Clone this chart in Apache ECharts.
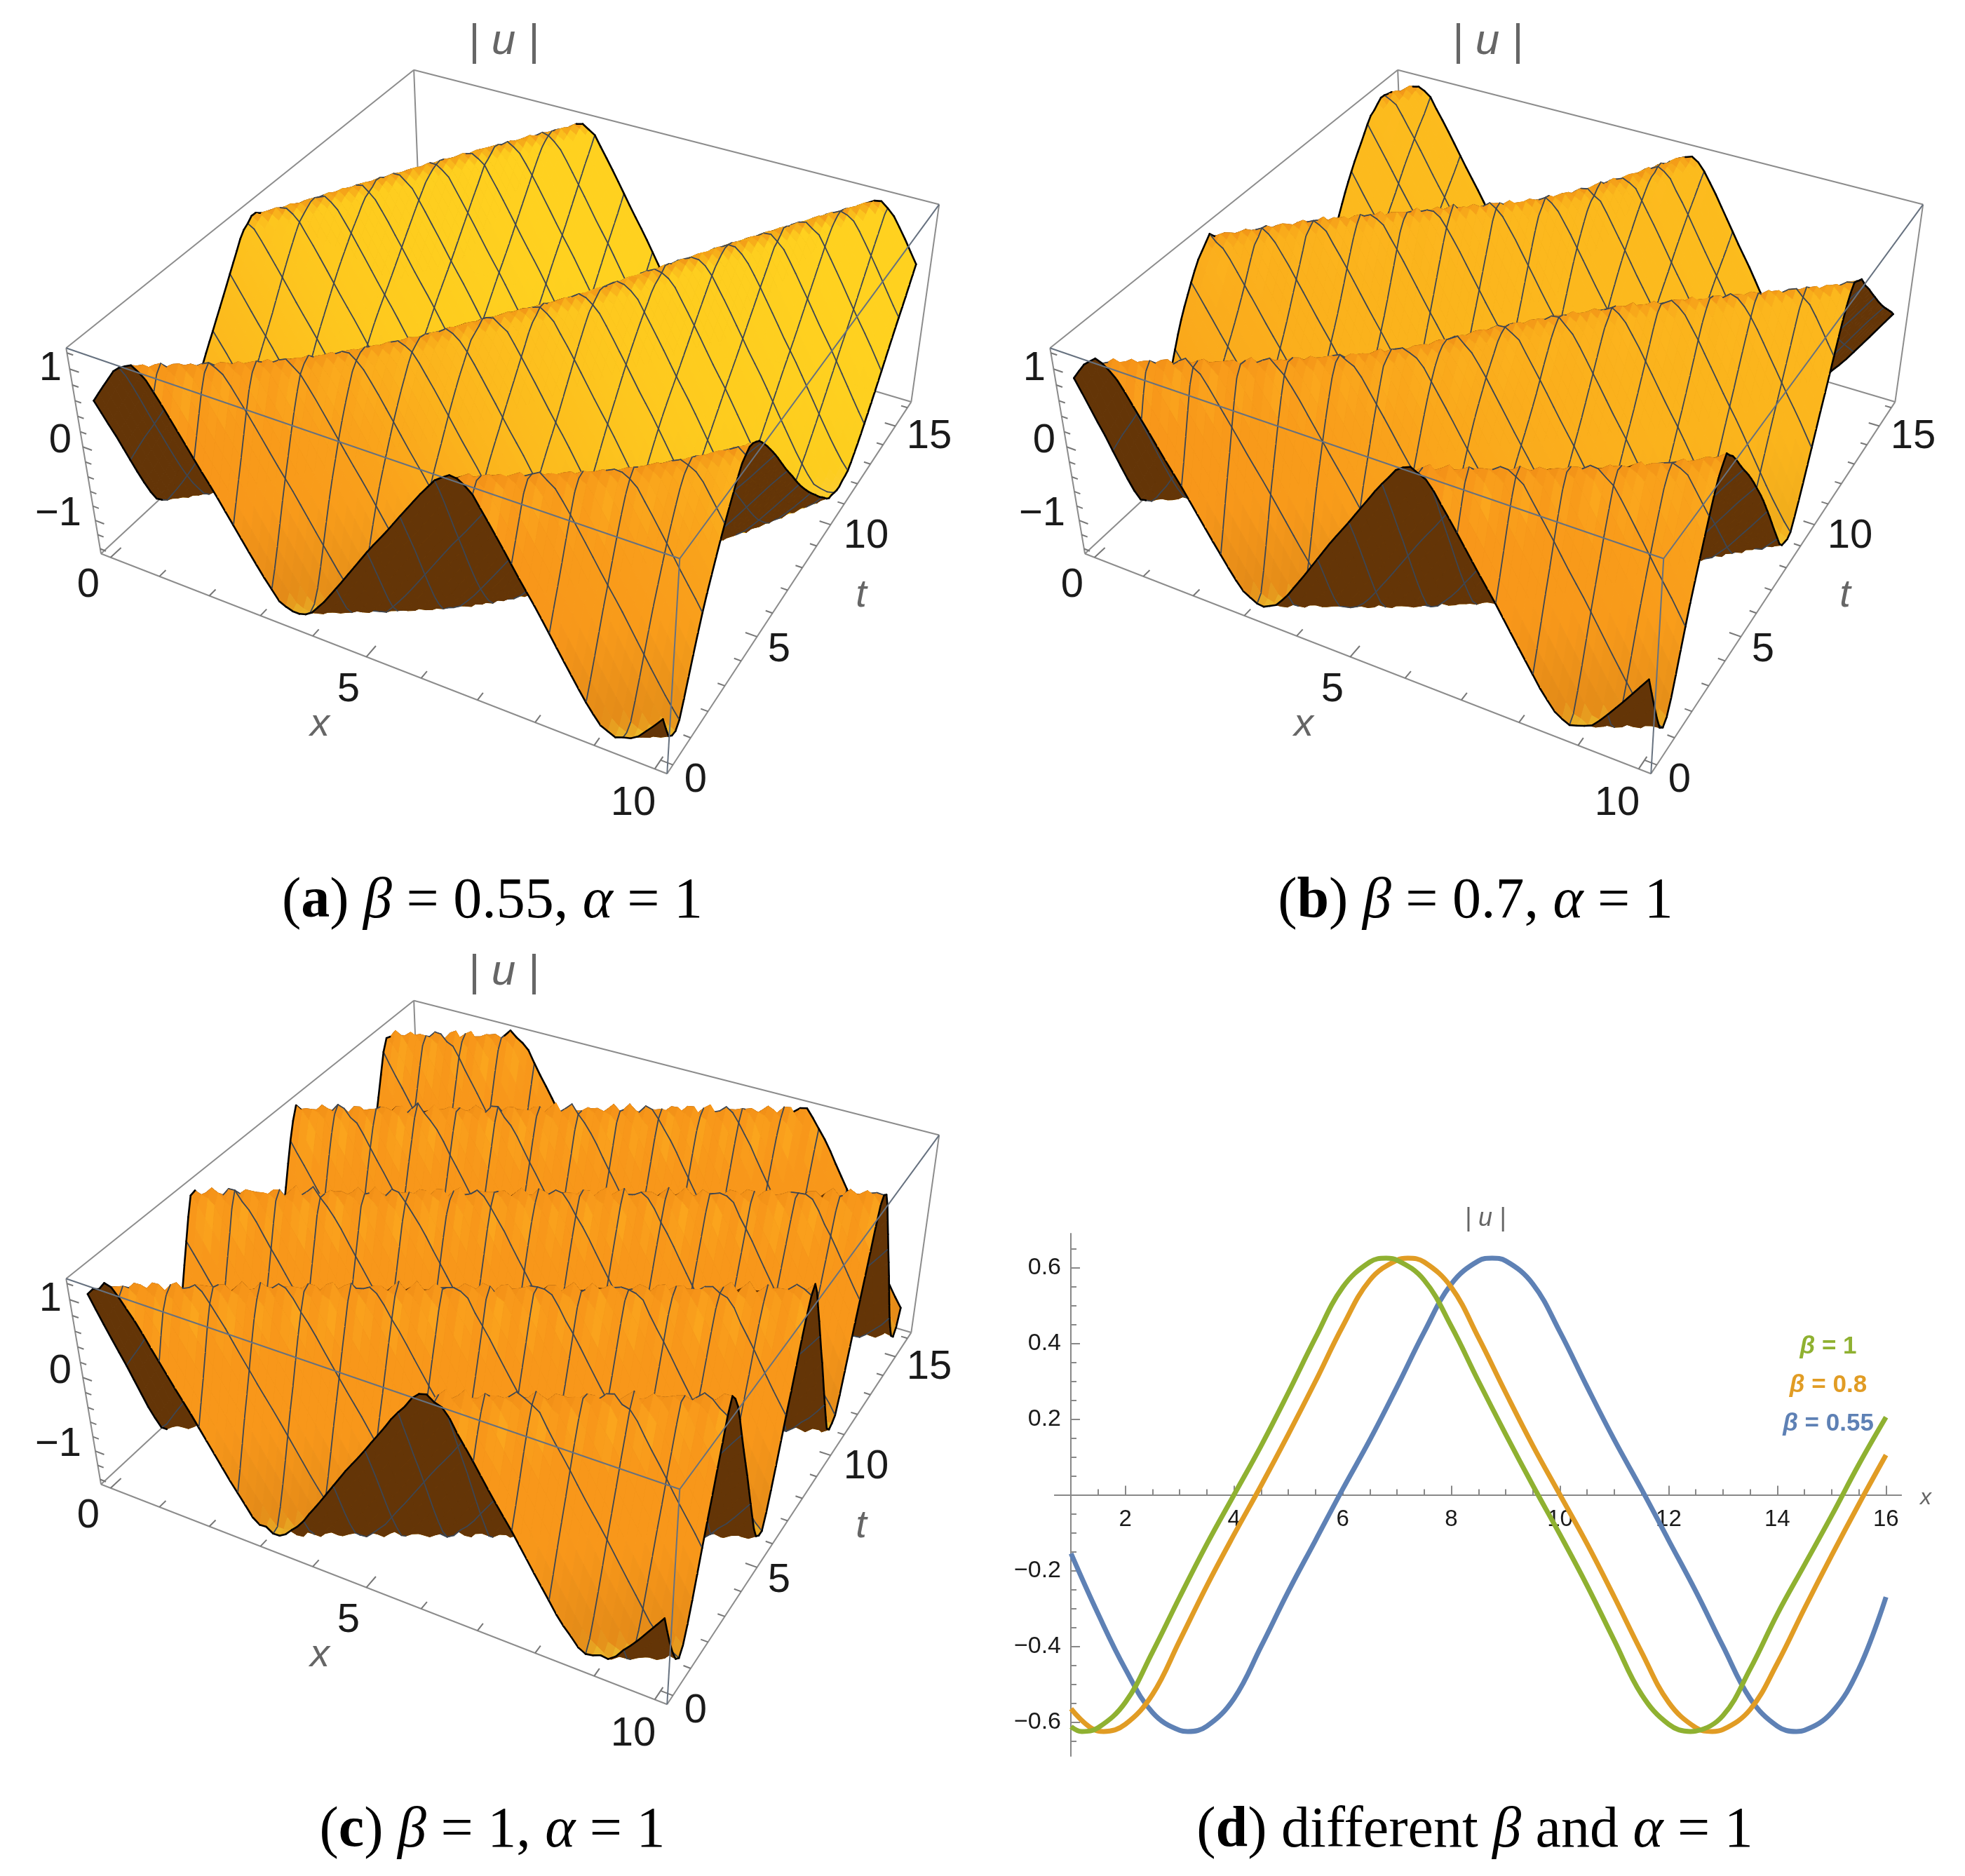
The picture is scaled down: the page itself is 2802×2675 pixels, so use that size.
<!DOCTYPE html>
<html><head><meta charset="utf-8">
<style>html,body{margin:0;padding:0;background:#fff}#c{width:2802px;height:2675px}</style>
<script src="https://cdn.jsdelivr.net/npm/echarts@6/dist/echarts.min.js"></script>
</head><body><div id="c"></div>
<script>
// ---------- panel (d) data ----------
const xValues=[1,1.5,2,2.5,3,3.5,4,4.5,5,5.5,6,6.5,7,7.5,8,8.5,9,9.5,10,10.5,11,11.5,12,12.5,13,13.5,14,14.5,15,15.5,16];
const beta1=[-.612,-.615,-.548,-.415,-.27,-.13,0,.13,.27,.415,.548,.615,.62,.567,.445,.30,.16,.025,-.105,-.24,-.385,-.527,-.606,-.624,-.583,-.46,-.315,-.185,-.055,.08,.205];
const beta08=[-.565,-.624,-.606,-.527,-.385,-.24,-.105,.025,.16,.30,.445,.567,.62,.615,.548,.415,.27,.13,0,-.13,-.27,-.415,-.548,-.615,-.62,-.567,-.445,-.30,-.16,-.025,.105];
const beta055=[-.155,-.315,-.46,-.575,-.622,-.611,-.538,-.40,-.255,-.12,.015,.145,.285,.43,.557,.618,.618,.557,.43,.285,.145,.015,-.12,-.255,-.40,-.538,-.611,-.622,-.575,-.46,-.27];
// turning points of each curve: [x, value]
const extrema1=[[1.2,-.625],[6.8,.625],[12.4,-.625]];
const extrema08=[[1.6,-.625],[7.2,.625],[12.8,-.625]];
const extrema055=[[3.15,-.625],[8.75,.625],[14.35,-.625]];
const dMajorX=[2,4,6,8,10,12,14,16];
const dMinorX=[1.5,2,2.5,3,3.5,4,4.5,5,5.5,6,6.5,7,7.5,8,8.5,9,9.5,10,10.5,11,11.5,12,12.5,13,13.5,14,14.5,15,15.5,16];
const dMajorY=[-.6,-.4,-.2,.2,.4,.6];
const dMinorY=[-.65,-.6,-.55,-.5,-.45,-.4,-.35,-.3,-.25,-.2,-.15,-.1,-.05,.05,.1,.15,.2,.25,.3,.35,.4,.45,.5,.55,.6,.65];

// ---------- surface data ----------
const tKnots=[0,2,4,6,8,10,12,14,16];
const shiftA=[0,2,3.3,4.25,5.2,5.95,6.7,7.5,8.35];
const shiftB=[0,2.3,4,5.05,6.3,7.85,9.4,10.3,11];
const shiftC=[0,2.36,4.72,7.08,9.44,11.8,14.16,16.5,18.9];
const warmA=[1,.85,.55,.35,.2,.12,.08,.05,.05];
const warmB=[1,.9,.72,.62,.55,.5,.45,.42,.4];
const warmC=[1,1,1,1,1,1,1,1,1];
const profileZ=[1.2,1.08,.8,.5,.19,-.1,-.42,-.74,-1.05,-1.32,-1.4];
const ripple=[0,.5,1,.4,.1,.6,.9,.3,0,.7,.5];
const xTicks=[0,1,2,3,4,5,6,7,8,9,10];
const tTicks=[0,1,2,3,4,5,6,7,8,9,10,11,12,13,14,15,16];
const zTicks=[-1.4,-1.2,-1,-.8,-.6,-.4,-.2,0,.2,.4,.6,.8,1,1.2];

const boxX=[-.2,10.2],boxT=[-.32,16.32],boxZ=[-1.47,1.26];
const corners=[[0,0,1,96,497],[1,0,1,969,799],[1,1,1,1338,292],[0,1,1,590,97],[0,0,0,142,787],[1,0,0,952,1103],[1,1,0,1300,571],[0,1,0,601,370]];
const panels=[
 {dx:0,dy:0,crest:.85,L:5.72,shift:shiftA,warm:warmA,rip:.02,lift:.02},
 {dx:1403,dy:0,crest:.55,L:5.6,shift:shiftB,warm:warmB,rip:.04,lift:.03},
 {dx:0,dy:1327,crest:.4,L:5.75,shift:shiftC,warm:warmC,rip:.09,lift:.1}];
const fallShare=.47;

function solveCamera(){
 const A=[],b=[];
 corners.forEach(c=>{
  const x=boxX[c[0]],t=boxT[c[1]],z=boxZ[c[2]],u=c[3]/1000,v=c[4]/1000;
  A.push([x,t,z,1,0,0,0,0,-u*x,-u*t,-u*z]);b.push(u);
  A.push([0,0,0,0,x,t,z,1,-v*x,-v*t,-v*z]);b.push(v);
 });
 const n=11,M=[];
 for(let i=0;i<n;i++){M.push(new Array(n+1).fill(0));
  for(let j=0;j<n;j++)for(let r=0;r<A.length;r++)M[i][j]+=A[r][i]*A[r][j];
  for(let r=0;r<A.length;r++)M[i][n]+=A[r][i]*b[r];}
 for(let i=0;i<n;i++){let m=i;for(let r=i+1;r<n;r++)if(Math.abs(M[r][i])>Math.abs(M[m][i]))m=r;
  [M[i],M[m]]=[M[m],M[i]];
  for(let r=0;r<n;r++)if(r!==i){const f=M[r][i]/M[i][i];for(let c=i;c<=n;c++)M[r][c]-=f*M[i][c];}}
 return M.map((row,i)=>row[n]/row[i]);
}
const P=solveCamera();
function project(p,x,t,z){
 const w=P[8]*x+P[9]*t+P[10]*z+1;
 return [1000*(P[0]*x+P[1]*t+P[2]*z+P[3])/w+p.dx,1000*(P[4]*x+P[5]*t+P[6]*z+P[7])/w+p.dy];
}
function tableAt(tab,t){
 const h=tKnots[1];let i=Math.min(tab.length-2,Math.max(0,Math.floor(t/h)));const s=t/h-i;
 const p1=tab[i],p2=tab[i+1],p0=i>0?tab[i-1]:2*p1-p2,p3=i<tab.length-2?tab[i+2]:2*p2-p1;
 return .5*(2*p1+(p2-p0)*s+(2*p0-5*p1+4*p2-p3)*s*s+(3*p1-p0-3*p2+p3)*s*s*s);
}
const NX=80,NT=80,DX=10/NX,DT=16/NT,MX=NX/16,MT=NT/16;
function phaseF(p,x,t){
 const ph=x-p.crest-tableAt(p.shift,t),m=((ph%p.L)+p.L)%p.L,fall=p.L*fallShare;
 return (m<fall?m/fall:(p.L-m)/(p.L-fall))*10;
}
function height(p,ix,it){
 const f=phaseF(p,ix*DX,it*DT);
 const i=Math.min(9,Math.floor(f)),zz=profileZ[i]+(profileZ[i+1]-profileZ[i])*(f-i);
 const e=Math.abs(f/5-1),w=e*e*e,r=ripple[(ix+it)%ripple.length]*p.rip*w;
 return zz+(f<5?p.lift*w-r:r);
}
function clamp(v){return Math.max(0,Math.min(1,v));}
function mix(a,b,s){s=clamp(s);return [a[0]+(b[0]-a[0])*s,a[1]+(b[1]-a[1])*s,a[2]+(b[2]-a[2])*s];}
function css(c,k){k=k||1;return 'rgb('+Math.round(c[0]*k)+','+Math.round(c[1]*k)+','+Math.round(c[2]*k)+')';}
const YEL=[255,212,31],ORA=[248,151,26],TOP=[240,142,22],LOW=[255,206,48],GLOW=[255,186,34],BROWN='#643507';

function surfaceItem(p){return function(params,api){
 const ix=api.value(0),it=api.value(1),x=ix*DX,t=it*DT,x1=x+DX,t1=t+DT;
 const z00=height(p,ix,it),z10=height(p,ix+1,it),z11=height(p,ix+1,it+1),z01=height(p,ix,it+1);
 const s00=project(p,x,t,z00),s10=project(p,x1,t,z10),s11=project(p,x1,t1,z11),s01=project(p,x,t1,z01);
 const q=[s00,s10,s11,s01];let area=0;
 for(let i=0;i<4;i++){const a=q[i],b=q[(i+1)%4];area+=a[0]*b[1]-b[0]*a[1];}
 let col;
 if(area>0)col=BROWN;
 else{
  const warm=clamp(tableAt(p.warm,t+DT/2));
  const f=phaseF(p,x+DX/2,t+DT/2),zm=(z00+z10+z11+z01)/4;
  let c=mix(YEL,ORA,warm);
  c=mix(c,GLOW,clamp((f-.5)/.8)*clamp((3-f)/1.2)*ripple[ix%ripple.length]*.4*warm);
  c=mix(c,TOP,clamp(1-f/.75)*.8);
  c=mix(c,LOW,clamp(1-(10-f)/1.2)*.85);
  const k=1-(.08*(1-clamp((zm+1.2)/.9)))*warm;
  col=css(c,k);
 }
 const sc=q.map(s=>api.coord(s));
 const ch=[{type:'polygon',shape:{points:sc},style:{fill:col,stroke:col,lineWidth:1}}];
 const line=(a,b,c,w)=>ch.push({type:'line',shape:{x1:a[0],y1:a[1],x2:b[0],y2:b[1]},style:{stroke:c,lineWidth:w,lineCap:'round'}});
 if(ix%MX===0&&ix>0)line(sc[0],sc[3],'#3d4653',1.8);
 if((it+1)%MT===0&&it+1<NT)line(sc[3],sc[2],'#3d4653',1.8);
 if(ix===0)line(sc[0],sc[3],'#000',2.6);
 if(ix===NX-1)line(sc[1],sc[2],'#000',2.6);
 if(it===0)line(sc[0],sc[1],'#000',2.6);
 if(it===NT-1)line(sc[3],sc[2],'#000',2.6);
 return {type:'group',children:ch};
};}
const cellData=[];for(let it=NT-1;it>=0;it--)for(let ix=0;ix<NX;ix++)cellData.push([ix,it]);

const backEdges=[[0,0,1,0,1,1],[1,1,1,0,1,1],[0,0,1,0,0,0],[0,1,1,0,1,0],[1,1,1,1,1,0],[0,0,0,1,0,0],[1,0,0,1,1,0],[0,0,0,0,1,0],[0,1,0,1,1,0]];
const frontEdges=[[0,0,1,1,0,1],[1,0,1,1,1,1],[1,0,1,1,0,0]];
const tickSegs=[];
xTicks.forEach(v=>tickSegs.push(['x',v,v%5===0]));
tTicks.forEach(v=>tickSegs.push(['t',v,v%5===0]));
zTicks.forEach(v=>tickSegs.push(['z',v,Math.abs(v-Math.round(v))<.01]));

function edgeSeries(list,zl,colour){
 return panels.map(p=>({type:'custom',xAxisIndex:0,yAxisIndex:0,silent:true,z:zl,clip:false,animation:false,
  data:list.map((e,i)=>[i,0]),
  renderItem(pr,api){const e=list[api.value(0)];
   const a=api.coord(project(p,boxX[e[0]],boxT[e[1]],boxZ[e[2]])),b=api.coord(project(p,boxX[e[3]],boxT[e[4]],boxZ[e[5]]));
   return {type:'line',shape:{x1:a[0],y1:a[1],x2:b[0],y2:b[1]},style:{stroke:colour,lineWidth:2}};}}));
}
function tickSeries(){return panels.map(p=>({type:'custom',xAxisIndex:0,yAxisIndex:0,silent:true,z:2,clip:false,animation:false,
 data:tickSegs.map((e,i)=>[i,0]),
 renderItem(pr,api){const e=tickSegs[api.value(0)],v=e[1],mj=e[2];let a,b;
  if(e[0]==='x'){a=[v,boxT[0],boxZ[0]];b=[v,boxT[0]+(mj?.45:.28),boxZ[0]];}
  else if(e[0]==='t'){a=[boxX[1],v,boxZ[0]];b=[boxX[1]-(mj?.2:.12),v,boxZ[0]];}
  else{a=[boxX[0],boxT[0],v];b=[boxX[0]+(mj?.18:.12),boxT[0],v];}
  const A=api.coord(project(p,...a)),B=api.coord(project(p,...b));
  return {type:'line',shape:{x1:A[0],y1:A[1],x2:B[0],y2:B[1]},style:{stroke:'#777',lineWidth:2}};}}));}

function curve(vals,ext){return xValues.map((x,i)=>[x,vals[i]]).concat(ext).sort((a,b)=>a[0]-b[0]);}
const series=[...edgeSeries(backEdges,2,'#8c8c8c'),...tickSeries(),
 ...panels.map(p=>({type:'custom',xAxisIndex:0,yAxisIndex:0,silent:true,z:3,clip:false,animation:false,progressive:0,
   data:cellData,renderItem:surfaceItem(p)})),
 ...edgeSeries(frontEdges,4,'#66717f'),
 {name:'β = 0.55',type:'line',xAxisIndex:1,yAxisIndex:1,data:curve(beta055,extrema055),smooth:.4,showSymbol:false,lineStyle:{color:'#5E81B5',width:7},z:5,animation:false},
 {name:'β = 0.8',type:'line',xAxisIndex:1,yAxisIndex:1,data:curve(beta08,extrema08),smooth:.4,showSymbol:false,lineStyle:{color:'#E19C24',width:7},z:6,animation:false},
 {name:'β = 1',type:'line',xAxisIndex:1,yAxisIndex:1,data:curve(beta1,extrema1),smooth:.4,showSymbol:false,lineStyle:{color:'#8FB131',width:7},z:7,animation:false}
];

// ---------- texts ----------
const SANS='"Liberation Sans"',SERIF='"Liberation Serif"';
function txt(x,y,s,size,color,extra){return {type:'text',x,y,z:20,silent:true,style:Object.assign({text:s,fontFamily:SANS,fontSize:size,fill:color,align:'center',verticalAlign:'middle'},extra||{})};}
const g=[];
const panelLabels=[['1',72,526],['0',86,629],['\u22121',83,733],['0',126,835],['5',497,984],['10',903,1146],['0',992,1113],['5',1111,927],['10',1235,765],['15',1325,623]];
panels.forEach(p=>{
 panelLabels.forEach(l=>g.push(txt(l[1]+p.dx,l[2]+p.dy,l[0],58,'#1a1a1a')));
 g.push(txt(456+p.dx,1033+p.dy,'x',56,'#666',{fontStyle:'italic'}));
 g.push(txt(1228+p.dx,849+p.dy,'t',56,'#666',{fontStyle:'italic'}));
 g.push(txt(718+p.dx,60+p.dy,'| u |',62,'#666',{fontStyle:'italic'}));
});
const capStyle={fontFamily:SERIF,fontSize:82,fill:'#000'};
const capRich={r:capStyle,b:Object.assign({},capStyle,{fontWeight:'bold'}),i:Object.assign({},capStyle,{fontStyle:'italic'})};
function cap(x,y,s){g.push({type:'text',x,y,z:20,silent:true,style:{text:s,rich:capRich,align:'center',verticalAlign:'middle'}});}
cap(702,1286,'{r|(}{b|a}{r|) }{i|β}{r| = 0.55, }{i|α}{r| = 1}');
cap(2104,1286,'{r|(}{b|b}{r|) }{i|β}{r| = 0.7, }{i|α}{r| = 1}');
cap(702,2611,'{r|(}{b|c}{r|) }{i|β}{r| = 1, }{i|α}{r| = 1}');
cap(2103,2611,'{r|(}{b|d}{r|) different }{i|β}{r| and }{i|α}{r| = 1}');
g.push(txt(2118,1738,'| u |',36,'#666',{fontStyle:'italic'}));
g.push(txt(2746,2136,'x',32,'#666',{fontStyle:'italic'}));
function leg(y,s,c){const st={fontFamily:SANS,fontSize:35,fontWeight:'bold',fill:c};
 g.push({type:'text',x:2607,y,z:20,silent:true,style:{text:'{i|β}{n|'+s+'}',rich:{i:Object.assign({},st,{fontStyle:'italic'}),n:st},align:'center',verticalAlign:'middle'}});}
leg(1920,' = 1','#8FB131');leg(1975,' = 0.8','#E19C24');leg(2030,' = 0.55','#5E81B5');

const fmt=v=>String(v).replace('-','\u2212').replace(/^(\u2212?)\./,'$10.');
const chart=echarts.init(document.getElementById('c'),null,{renderer:'canvas',width:2802,height:2675});
chart.setOption({
 animation:false,backgroundColor:'#fff',
 grid:[{left:0,top:0,width:2802,height:2675},{left:1504,width:1207,top:1759,height:745}],
 xAxis:[
  {gridIndex:0,type:'value',min:0,max:2802,show:false},
  {gridIndex:1,type:'value',position:'bottom',min:.7,max:16.28,axisLine:{show:true,onZero:true,onZeroAxisIndex:1,lineStyle:{color:'#888',width:2}},
   splitLine:{show:false},axisTick:{show:true,inside:true,length:13,customValues:dMajorX,lineStyle:{color:'#888',width:2}},
   axisLabel:{customValues:dMajorX,margin:-354,fontFamily:SANS,fontSize:33,color:'#1a1a1a'}},
  {gridIndex:1,type:'value',position:'bottom',min:.7,max:16.28,axisLine:{show:true,onZero:true,onZeroAxisIndex:1,lineStyle:{color:'#888',width:2}},splitLine:{show:false},
   axisTick:{show:true,inside:true,length:8,customValues:dMinorX,lineStyle:{color:'#888',width:2}},axisLabel:{show:false}}
 ],
 yAxis:[
  {gridIndex:0,type:'value',min:0,max:2675,inverse:true,show:false},
  {gridIndex:1,type:'value',min:-.69,max:.69,position:'left',offset:-23,axisLine:{show:true,onZero:false,lineStyle:{color:'#888',width:2}},
   splitLine:{show:false},axisTick:{show:true,inside:true,length:13,customValues:dMajorY,lineStyle:{color:'#888',width:2}},
   axisLabel:{customValues:dMajorY,margin:14,formatter:fmt,fontFamily:SANS,fontSize:34,color:'#1a1a1a'}},
  {gridIndex:1,type:'value',min:-.69,max:.69,position:'left',offset:-23,axisLine:{show:false,onZero:false},splitLine:{show:false},
   axisTick:{show:true,inside:true,length:8,customValues:dMinorY,lineStyle:{color:'#888',width:2}},axisLabel:{show:false}}
 ],
 graphic:{elements:g},
 series
});
</script></body></html>
